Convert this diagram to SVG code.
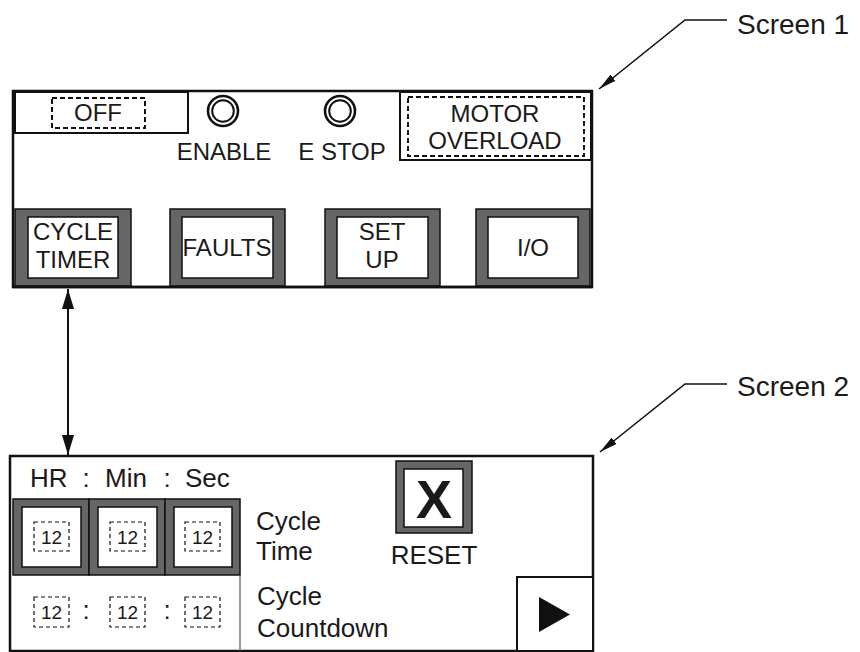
<svg xmlns="http://www.w3.org/2000/svg" width="860" height="652" viewBox="0 0 860 652">
<defs>
<style>
text{font-family:"Liberation Sans",Arial,sans-serif;fill:#1a1a1a;}
.tm{font-size:24px;text-anchor:middle;}
.t2{font-size:26px;}
.t2m{font-size:26px;text-anchor:middle;}
.frame{fill:#fff;stroke:#111;stroke-width:2.5;}
.box{fill:#fff;stroke:#111;stroke-width:2;}
.dash{fill:none;stroke:#111;stroke-width:2;stroke-dasharray:5 3;}
.dsm{fill:none;stroke:#111;stroke-width:1.2;stroke-dasharray:4 3;}
.bo{fill:#666;stroke:#111;stroke-width:1.5;}
.bi{fill:#fff;stroke:#111;stroke-width:1.5;}
.ring{fill:none;stroke:#111;}
.ln{fill:none;stroke:#111;stroke-width:1.6;}
.n{font-size:19px;text-anchor:middle;}
.lbl{font-size:28px;}
</style>
<marker id="big" viewBox="0 0 20 12" refX="20" refY="6" markerWidth="20" markerHeight="12" markerUnits="userSpaceOnUse" orient="auto-start-reverse"><path d="M0,0 L20,6 L0,12 z" fill="#111"/></marker>
<marker id="sm" viewBox="0 0 18 8" refX="18" refY="4" markerWidth="18" markerHeight="8" markerUnits="userSpaceOnUse" orient="auto"><path d="M0,0 L18,4 L0,8 z" fill="#111"/></marker>
</defs>

<g id="screen1">
<rect class="frame" x="13" y="91" width="579" height="196"/>
<g id="off">
<rect class="box" x="15" y="92" width="173" height="41"/>
<rect class="dash" x="52" y="98" width="93" height="30"/>
<text class="tm" x="98" y="121">OFF</text>
</g>
<g id="enable">
<circle class="ring" cx="223" cy="111" r="15" stroke-width="2.6"/>
<circle class="ring" cx="223" cy="111" r="10.8" stroke-width="2"/>
<text class="tm" x="224" y="160">ENABLE</text>
</g>
<g id="estop">
<circle class="ring" cx="340" cy="111" r="15" stroke-width="2.6"/>
<circle class="ring" cx="340" cy="111" r="10.8" stroke-width="2"/>
<text class="tm" x="342" y="160">E STOP</text>
</g>
<g id="motor">
<rect class="box" x="400" y="92" width="191" height="68"/>
<rect class="dash" x="408" y="97" width="176" height="59"/>
<text class="tm" x="495" y="122">MOTOR</text>
<text class="tm" x="495" y="149">OVERLOAD</text>
</g>
<g id="btn-cycle">
<rect class="bo" x="15" y="209" width="116" height="77"/>
<rect class="bi" x="28" y="217" width="90" height="61"/>
<text class="tm" x="73" y="240">CYCLE</text>
<text class="tm" x="73" y="268">TIMER</text>
</g>
<g id="btn-faults">
<rect class="bo" x="170" y="209" width="115" height="77"/>
<rect class="bi" x="182" y="217" width="91" height="61"/>
<text class="tm" x="227" y="256">FAULTS</text>
</g>
<g id="btn-setup">
<rect class="bo" x="325" y="209" width="115" height="77"/>
<rect class="bi" x="337" y="217" width="91" height="61"/>
<text class="tm" x="382" y="240">SET</text>
<text class="tm" x="382" y="268">UP</text>
</g>
<g id="btn-io">
<rect class="bo" x="476" y="209" width="114" height="77"/>
<rect class="bi" x="488" y="217" width="90" height="61"/>
<text class="tm" x="533" y="256">I/O</text>
</g>
<line x1="13" y1="287" x2="592" y2="287" stroke="#111" stroke-width="2.5"/>
</g>

<g id="screen2">
<rect class="frame" x="10" y="456" width="583" height="195"/>
<g id="hms">
<text class="t2" x="30" y="487">HR</text>
<text class="t2m" x="86" y="487">:</text>
<text class="t2" x="105" y="487">Min</text>
<text class="t2m" x="167" y="487">:</text>
<text class="t2" x="185" y="487">Sec</text>
</g>
<g id="hr-btn">
<rect class="bo" x="13" y="499" width="76" height="76"/>
<rect class="bi" x="22" y="507" width="59" height="60"/>
<rect class="dsm" x="34" y="522" width="35" height="29"/>
<text class="n" x="51.5" y="544">12</text>
</g>
<g id="min-btn">
<rect class="bo" x="89" y="499" width="76" height="76"/>
<rect class="bi" x="98" y="507" width="59" height="60"/>
<rect class="dsm" x="110" y="522" width="35" height="29"/>
<text class="n" x="127.5" y="544">12</text>
</g>
<g id="sec-btn">
<rect class="bo" x="165" y="499" width="75" height="76"/>
<rect class="bi" x="174" y="507" width="58" height="60"/>
<rect class="dsm" x="185" y="522" width="35" height="29"/>
<text class="n" x="202.5" y="544">12</text>
</g>
<g id="countdown">
<line x1="240" y1="575" x2="240" y2="651" stroke="#555" stroke-width="1.2"/>
<rect class="dsm" x="34" y="597" width="35" height="30"/>
<text class="n" x="51.5" y="619">12</text>
<text class="t2m" x="86" y="619">:</text>
<rect class="dsm" x="110" y="597" width="35" height="30"/>
<text class="n" x="127.5" y="619">12</text>
<text class="t2m" x="167" y="619">:</text>
<rect class="dsm" x="185" y="597" width="35" height="30"/>
<text class="n" x="202.5" y="619">12</text>
</g>
<g id="cycle-time">
<text class="t2" x="256" y="530">Cycle</text>
<text class="t2" x="256" y="560">Time</text>
</g>
<g id="cycle-countdown">
<text class="t2" x="257" y="605">Cycle</text>
<text class="t2" x="257" y="637">Countdown</text>
</g>
<g id="reset">
<rect class="bo" x="396" y="461" width="76" height="72"/>
<rect class="bi" x="404" y="469" width="59" height="58"/>
<text x="434" y="518" style="font-size:54px;font-weight:bold;text-anchor:middle">X</text>
<text class="t2m" x="434" y="564">RESET</text>
</g>
<g id="next">
<rect class="box" x="517" y="577" width="76" height="74"/>
<path d="M539,597 L570,614.5 L539,632 z" fill="#111"/>
</g>
</g>

<g id="labels">
<text class="lbl" x="737" y="34">Screen 1</text>
<text class="lbl" x="737" y="396">Screen 2</text>
</g>

<g id="connectors">
<line x1="68" y1="289" x2="68" y2="455" stroke="#111" stroke-width="2" marker-start="url(#big)" marker-end="url(#big)"/>
<polyline class="ln" points="727,20 685,20 599,89" marker-end="url(#sm)"/>
<polyline class="ln" points="727,384 685,384 600,452" marker-end="url(#sm)"/>
</g>
</svg>
